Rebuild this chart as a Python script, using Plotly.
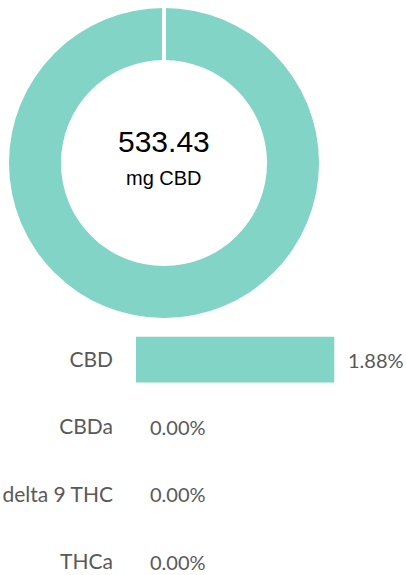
import plotly.graph_objects as go

# ---- data ----
categories = ["CBD", "CBDa", "delta 9 THC", "THCa"]
percent_values = [1.88, 0.00, 0.00, 0.00]
total_mg = 533.43
total_unit = "mg CBD"
donut_labels = ["CBD"]
donut_values = [total_mg]

W, H = 406, 575
teal = "#81D4C6"
gray = "#595959"
label_font = "Lato, 'Open Sans', sans-serif"

fig = go.Figure()

# donut
fig.add_trace(go.Pie(
    labels=donut_labels, values=donut_values, hole=0.665,
    sort=False, direction="clockwise", textinfo="none",
    marker=dict(colors=[teal], line=dict(width=0)),
    domain=dict(x=[9 / W, 319 / W], y=[1 - 318 / H, 1 - 8 / H]),
    showlegend=False, hoverinfo="label+value",
))

# bars
fig.add_trace(go.Bar(
    x=percent_values, y=categories, orientation="h",
    marker=dict(color=teal, line=dict(width=0)),
    width=0.68, xaxis="x", yaxis="y", showlegend=False,
    hovertemplate="%{y}: %{x:.2f}%<extra></extra>",
))

for c, v in zip(categories, percent_values):
    fig.add_annotation(x=v, y=c, xref="x", yref="y", text=f"{v:.2f}%",
                       showarrow=False, xanchor="left", yanchor="middle", xshift=12,
                       font=dict(family=label_font, size=20, color=gray))

# centre text
cx = 164 / W
fig.add_annotation(x=cx, y=1 - 142 / H, xref="paper", yref="paper",
                   xanchor="center", yanchor="middle",
                   text=f"{total_mg:.2f}", showarrow=False,
                   font=dict(family="Liberation Sans, Arial", size=30, color="#000000"))
fig.add_annotation(x=cx, y=1 - 178 / H, xref="paper", yref="paper",
                   xanchor="center", yanchor="middle",
                   text=total_unit, showarrow=False,
                   font=dict(family="Liberation Sans, Arial", size=20, color="#000000"))

# gap at 12 o'clock
fig.add_shape(type="line", xref="paper", yref="paper",
              x0=cx, x1=cx, y0=1 - 70 / H, y1=1.0,
              line=dict(color="white", width=4))

fig.update_layout(
    width=W, height=H,
    margin=dict(l=0, r=0, t=0, b=0),
    paper_bgcolor="white", plot_bgcolor="white",
    xaxis=dict(domain=[136 / W, 1], range=[0, 2.56], visible=False,
               fixedrange=True),
    yaxis=dict(domain=[0, 1 - 326 / H], range=[3.195, -0.5],
               type="category", showgrid=False, zeroline=False, showline=False,
               ticks="", ticklabelstandoff=22,
               tickfont=dict(family=label_font, size=21, color=gray),
               fixedrange=True),
)

fig.write_html(
    "out.html",
    config={"displayModeBar": False},
    post_script="document.body.style.margin='0px';document.body.style.overflow='hidden';",
)
